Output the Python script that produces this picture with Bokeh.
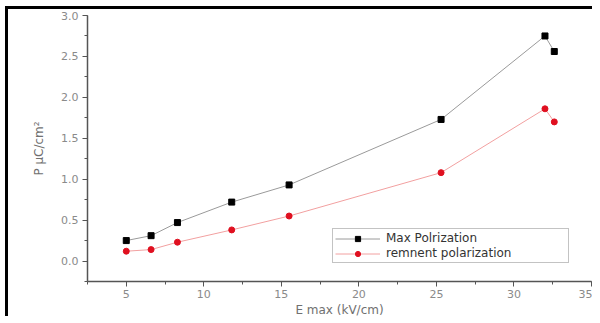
from bokeh.plotting import figure
from bokeh.models import SingleIntervalTicker, PrintfTickFormatter, Range1d, Legend, LegendItem
from bokeh.embed import file_html
from bokeh.resources import INLINE

# Data
e_max = [5.0, 6.6, 8.3, 11.8, 15.5, 25.3, 32.0, 32.6]
max_pol = [0.25, 0.31, 0.47, 0.72, 0.93, 1.73, 2.75, 2.56]
rem_pol = [0.12, 0.14, 0.23, 0.38, 0.55, 1.08, 1.86, 1.70]
x_label = "E max (kV/cm)"
y_label = "P \u03bcC/cm\u00b2"
names = ["Max Polrization", "remnent polarization"]

p = figure(width=587, height=310, output_backend="svg", toolbar_location=None,
           x_range=Range1d(2.5, 35), y_range=Range1d(-0.25, 3.0),
           min_border_left=79, min_border_right=4, min_border_top=6, min_border_bottom=31)
p.styles = {"border-left": "3px solid black", "border-top": "3px solid black",
            "margin-left": "5px", "margin-top": "6px"}
p.outline_line_color = None
p.xgrid.visible = False
p.ygrid.visible = False

l1 = p.line(e_max, max_pol, line_color="#9a9a9a", line_width=1)
s1 = p.scatter(e_max, max_pol, marker="square", size=6, fill_color="black", line_color="black")
l2 = p.line(e_max, rem_pol, line_color="#f2a0a0", line_width=1)
s2 = p.scatter(e_max, rem_pol, marker="circle", size=6, fill_color="#e01020", line_color="#e01020")

for ax in (p.xaxis[0], p.yaxis[0]):
    ax.axis_line_color = "#555555"
    ax.axis_line_width = 1.5
    ax.major_tick_line_color = "#555555"
    ax.minor_tick_line_color = "#555555"
    ax.major_tick_in = 0
    ax.major_tick_out = 5
    ax.minor_tick_in = 0
    ax.minor_tick_out = 3
    ax.major_label_text_font = "DejaVu Sans"
    ax.major_label_text_font_size = "11px"
    ax.major_label_text_color = "#8a8a8a"
    ax.axis_label_text_font = "DejaVu Sans"
    ax.axis_label_text_font_size = "12px"
    ax.axis_label_text_font_style = "normal"
    ax.axis_label_text_color = "#707070"

p.xaxis.ticker = SingleIntervalTicker(interval=5, num_minor_ticks=2)
p.yaxis.ticker = SingleIntervalTicker(interval=0.5, num_minor_ticks=2)
p.yaxis.formatter = PrintfTickFormatter(format="%.1f")
p.xaxis.axis_label = x_label
p.yaxis.axis_label = y_label
p.xaxis.axis_label_standoff = 2
p.yaxis.axis_label_standoff = 12
p.xaxis.major_label_standoff = 3
p.yaxis.major_label_standoff = 4

legend = Legend(items=[LegendItem(label=names[0], renderers=[l1, s1]),
                       LegendItem(label=names[1], renderers=[l2, s2])],
                location=(245, 18))
legend.border_line_color = "#888888"
legend.border_line_width = 1
legend.background_fill_alpha = 1
legend.label_text_font = "DejaVu Sans"
legend.label_text_font_size = "12px"
legend.label_text_color = "#333333"
legend.label_height = 13
legend.glyph_height = 13
legend.glyph_width = 45
legend.label_standoff = 6
legend.label_width = 180
legend.padding = 2
legend.spacing = 1
legend.margin = 0
p.add_layout(legend, "center")

open("out.html", "w").write(file_html(p, INLINE))
